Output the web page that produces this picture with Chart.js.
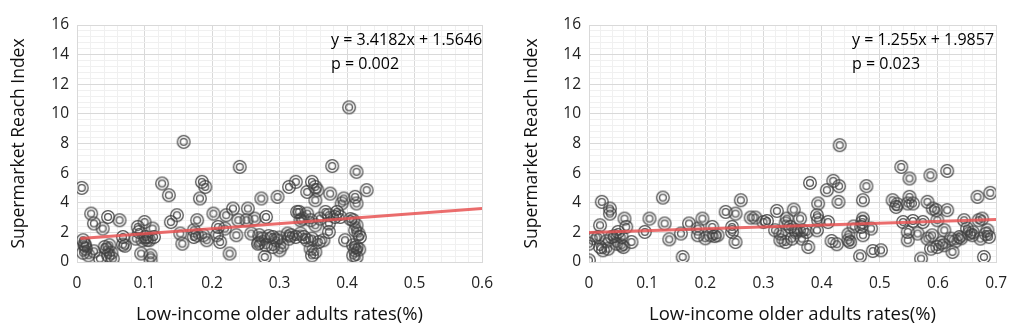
<!DOCTYPE html>
<html>
<head>
<meta charset="utf-8">
<script src="https://cdn.jsdelivr.net/npm/chart.js@4.4.1/dist/chart.umd.min.js"></script>
<style>
  html, body { margin: 0; padding: 0; background: #fff; }
  .wrap { position: relative; width: 1019px; height: 334px; }
  .panel { position: absolute; top: 0; height: 334px; }
  #left { left: 0; width: 505px; }
  #right { left: 510px; width: 509px; }
</style>
</head>
<body>
<div class="wrap">
  <div class="panel" id="left"><canvas id="chartLeft"></canvas></div>
  <div class="panel" id="right"><canvas id="chartRight"></canvas></div>
</div>
<script>
// Left panel: low-income older adults rate vs supermarket reach index
const leftX = [
  0.007, 0.009, 0.012, 0.013, 0.009, 0.017, 0.021, 0.025, 0.025, 0.034,
  0.038, 0.041, 0.046, 0.048, 0.046, 0.051, 0.053, 0.063, 0.068, 0.068,
  0.090, 0.092, 0.100, 0.095, 0.109, 0.109, 0.112, 0.102, 0.107, 0.097,
  0.087, 0.114, 0.126, 0.136, 0.139, 0.148, 0.153, 0.156, 0.158, 0.241,
  0.185, 0.190, 0.182, 0.178, 0.202, 0.221, 0.231, 0.253, 0.273, 0.297,
  0.314, 0.324, 0.239, 0.251, 0.263, 0.280, 0.209, 0.219, 0.173, 0.178,
  0.187, 0.173, 0.192, 0.207, 0.212, 0.236, 0.258, 0.270, 0.268, 0.275,
  0.280, 0.290, 0.295, 0.290, 0.300, 0.304, 0.312, 0.317, 0.314, 0.324,
  0.226, 0.278, 0.331, 0.326, 0.378, 0.414, 0.348, 0.353, 0.341, 0.356,
  0.375, 0.353, 0.395, 0.412, 0.429, 0.392, 0.414, 0.329, 0.341, 0.368,
  0.385, 0.334, 0.346, 0.360, 0.373, 0.382, 0.390, 0.353, 0.373, 0.409,
  0.414, 0.412, 0.417, 0.419, 0.373, 0.331, 0.336, 0.348, 0.341, 0.358,
  0.365, 0.397, 0.409, 0.414, 0.346, 0.353, 0.348, 0.412, 0.409, 0.414,
  0.403, 0.011, 0.044, 0.104, 0.071, 0.270, 0.300, 0.284, 0.418, 0.405
]
const leftY = [
  5.00, 1.47, 1.13, 0.90, 0.63, 0.45, 3.27, 2.60, 0.72, 0.23,
  2.26, 1.01, 3.04, 1.13, 0.45, 0.63, 0.23, 2.82, 1.69, 1.18,
  2.37, 2.03, 2.70, 0.57, 0.45, 0.11, 2.26, 1.69, 1.47, 1.47,
  1.58, 1.69, 5.30, 4.51, 2.70, 3.16, 1.92, 1.24, 8.11, 6.42,
  5.41, 5.07, 4.29, 2.82, 3.27, 3.16, 3.61, 3.61, 4.29, 4.40,
  5.07, 5.41, 2.82, 2.82, 2.93, 3.04, 2.37, 2.26, 2.14, 1.81,
  1.81, 1.69, 1.47, 1.81, 1.35, 1.81, 1.92, 1.81, 1.24, 1.58,
  1.13, 1.69, 1.47, 1.01, 0.79, 1.13, 1.92, 1.81, 1.58, 1.69,
  0.57, 0.34, 2.82, 3.38, 6.48, 6.09, 5.41, 5.07, 4.73, 4.85,
  4.62, 4.17, 4.29, 4.40, 4.85, 3.95, 3.95, 3.38, 3.27, 3.38,
  3.38, 2.93, 2.82, 2.93, 3.16, 3.04, 3.04, 2.48, 2.60, 2.82,
  2.48, 2.14, 1.92, 1.69, 2.03, 1.92, 1.69, 1.58, 1.47, 1.35,
  1.47, 1.47, 1.13, 1.01, 0.90, 0.68, 0.45, 0.79, 0.45, 0.34,
  10.44, 1.20, 0.85, 1.50, 1.10, 1.30, 1.65, 1.75, 0.85, 2.90
]

// Right panel
const rightX = [
  0.000, 0.000, 0.019, 0.022, 0.036, 0.036, 0.061, 0.064, 0.016, 0.019,
  0.024, 0.033, 0.039, 0.050, 0.056, 0.047, 0.056, 0.059, 0.073, 0.096,
  0.104, 0.127, 0.130, 0.138, 0.161, 0.158, 0.172, 0.187, 0.195, 0.187,
  0.209, 0.212, 0.431, 0.221, 0.235, 0.252, 0.261, 0.246, 0.246, 0.252,
  0.278, 0.286, 0.306, 0.323, 0.352, 0.320, 0.329, 0.338, 0.340, 0.346,
  0.355, 0.363, 0.366, 0.329, 0.338, 0.349, 0.366, 0.377, 0.380, 0.394,
  0.392, 0.394, 0.392, 0.374, 0.411, 0.409, 0.420, 0.430, 0.429, 0.417,
  0.426, 0.446, 0.446, 0.537, 0.551, 0.587, 0.616, 0.477, 0.471, 0.471,
  0.468, 0.471, 0.449, 0.485, 0.466, 0.488, 0.502, 0.522, 0.528, 0.551,
  0.548, 0.557, 0.540, 0.557, 0.574, 0.548, 0.548, 0.565, 0.571, 0.582,
  0.591, 0.597, 0.599, 0.582, 0.588, 0.599, 0.611, 0.611, 0.616, 0.622,
  0.625, 0.645, 0.650, 0.653, 0.659, 0.676, 0.685, 0.673, 0.679, 0.668,
  0.690, 0.637, 0.670, 0.008, 0.030, 0.044, 0.200, 0.216, 0.300, 0.356,
  0.470, 0.455, 0.606, 0.630, 0.660, 0.688, 0.530, 0.590, 0.640, 0.682
]
const rightY = [
  0.11, 1.24, 2.48, 4.06, 3.61, 3.27, 2.93, 2.37, 1.69, 1.01,
  0.79, 0.90, 1.69, 2.03, 1.69, 1.24, 1.13, 1.01, 1.35, 2.03,
  2.93, 4.35, 2.60, 1.53, 0.34, 1.92, 2.60, 2.26, 2.93, 1.81,
  1.81, 2.37, 7.89, 1.81, 3.38, 3.27, 4.17, 2.37, 2.03, 1.35,
  3.00, 3.00, 2.77, 3.45, 3.54, 2.14, 1.92, 2.60, 2.93, 2.37,
  2.14, 2.93, 2.14, 1.47, 1.35, 1.58, 1.58, 1.01, 5.34, 3.95,
  3.16, 2.82, 2.14, 2.03, 2.70, 4.85, 5.48, 5.12, 4.06, 1.42,
  1.20, 1.87, 1.47, 6.42, 5.64, 5.86, 6.15, 5.12, 4.17, 2.93,
  2.37, 1.81, 1.35, 2.26, 0.39, 0.74, 0.79, 4.17, 3.72, 4.40,
  3.95, 3.95, 2.70, 2.77, 2.70, 2.03, 1.47, 1.92, 0.23, 4.06,
  3.61, 3.50, 2.82, 1.58, 0.90, 1.01, 1.13, 2.14, 3.50, 1.58,
  0.68, 2.82, 2.26, 1.92, 1.81, 2.93, 2.14, 1.58, 0.34, 4.40,
  4.67, 1.69, 2.82, 1.60, 1.40, 1.75, 1.60, 1.75, 2.70, 2.00,
  2.70, 2.40, 1.30, 1.40, 2.00, 1.70, 3.90, 1.80, 1.60, 1.90
]

// Fitted lines, as printed in the chart
const leftEquation = ["y = 3.4182x + 1.5646", "p = 0.002"]
const rightEquation = ["y = 1.255x + 1.9857", "p = 0.023"]
const leftTrendX = [0.005, 0.6]
const leftTrendY = [1.582, 3.615]
const rightTrendX = [0, 0.7]
const rightTrendY = [1.986, 2.864]

const xTitle = "Low-income older adults rates(%)"
const yTitle = "Supermarket Reach Index"
const fontFamily = "'Open Sans', 'Noto Sans', sans-serif"

// double ring marker
function makeRing() {
  const c = document.createElement("canvas")
  c.width = 16
  c.height = 16
  const g = c.getContext("2d")
  g.strokeStyle = "rgba(64,64,64,0.9)"
  g.lineWidth = 1.3
  g.beginPath()
  g.arc(8, 8, 6.3, 0, Math.PI * 2)
  g.stroke()
  g.beginPath()
  g.arc(8, 8, 3.4, 0, Math.PI * 2)
  g.stroke()
  return c
}
const ring = makeRing()

const majorGrid = "#d9d9d9"
const minorGrid = "#f0f0f0"

function isMajor(v, step) {
  const r = v / step
  return Math.abs(r - Math.round(r)) < 1e-6
}

const equationPlugin = {
  id: "equation",
  afterDraw(chart, args, opts) {
    const ctx = chart.ctx
    const area = chart.chartArea
    ctx.save()
    ctx.fillStyle = "#000"
    ctx.font = "16px " + fontFamily
    ctx.textBaseline = "middle"
    ctx.textAlign = "left"
    ctx.fillText(opts.lines[0], area.left + opts.dx, 40)
    ctx.fillText(opts.lines[1], area.left + opts.dx, 64)
    ctx.restore()
  },
}

function makeChart(id, cfg) {
  const points = cfg.xs.map((x, i) => ({ x: x, y: cfg.ys[i] }))
  const trend = cfg.trendX.map((x, i) => ({ x: x, y: cfg.trendY[i] }))
  return new Chart(document.getElementById(id), {
    type: "scatter",
    data: {
      datasets: [
        {
          type: "line",
          data: trend,
          borderColor: "rgba(232,84,84,0.85)",
          borderWidth: 3,
          pointRadius: 0,
          fill: false,
          order: 0,
        },
        {
          data: points,
          pointStyle: ring,
          pointRadius: 7,
          order: 1,
        },
      ],
    },
    options: {
      responsive: true,
      maintainAspectRatio: false,
      animation: false,
      layout: {
        padding: { top: 25, right: cfg.padRight, bottom: 0, left: 0 },
      },
      plugins: {
        legend: { display: false },
        tooltip: { enabled: false },
        equation: { lines: cfg.equation, dx: cfg.eqDx },
      },
      scales: {
        x: {
          type: "linear",
          min: 0,
          max: cfg.xMax,
          afterFit: (s) => { s.height = 72 },
          border: { display: true, color: majorGrid },
          grid: {
            drawTicks: false,
            color: (c) => (isMajor(c.tick.value, 0.1) ? majorGrid : minorGrid),
          },
          ticks: {
            stepSize: 0.02,
            autoSkip: false,
            maxRotation: 0,
            padding: 12,
            color: "#222",
            font: { family: fontFamily, size: 15.5 },
            callback: (v) => (isMajor(v, 0.1) ? String(Math.round(v * 10) / 10) : ""),
          },
          title: {
            display: true,
            text: xTitle,
            color: "#111",
            font: { family: fontFamily, size: 18.5 },
            padding: { top: 0, bottom: 8 },
          },
        },
        y: {
          min: 0,
          max: 16,
          afterFit: (s) => { s.width = cfg.yWidth },
          border: { display: true, color: majorGrid },
          grid: {
            drawTicks: false,
            color: (c) => (isMajor(c.tick.value, 2) ? majorGrid : minorGrid),
          },
          ticks: {
            stepSize: 0.4,
            autoSkip: false,
            padding: 8,
            color: "#222",
            font: { family: fontFamily, size: 15.5 },
            callback: (v) => (isMajor(v, 2) ? String(Math.round(v)) : ""),
          },
          title: {
            display: true,
            text: yTitle,
            color: "#111",
            font: { family: fontFamily, size: 17.5 },
            padding: { top: cfg.yTitlePad, bottom: 0 },
          },
        },
      },
    },
    plugins: [equationPlugin],
  })
}

makeChart("chartLeft", {
  xs: leftX, ys: leftY, trendX: leftTrendX, trendY: leftTrendY,
  xMax: 0.6, padRight: 18, yWidth: 77, yTitlePad: 9,
  equation: leftEquation, eqDx: 254,
})

makeChart("chartRight", {
  xs: rightX, ys: rightY, trendX: rightTrendX, trendY: rightTrendY,
  xMax: 0.7, padRight: 20, yWidth: 79, yTitlePad: 12,
  equation: rightEquation, eqDx: 263,
})
</script>
</body>
</html>
